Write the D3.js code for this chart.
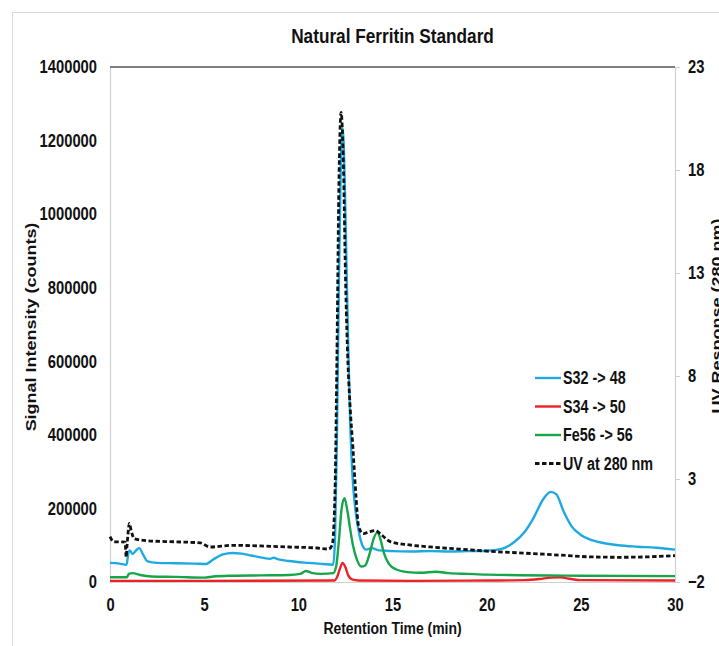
<!DOCTYPE html>
<html>
<head>
<meta charset="utf-8">
<script src="https://cdn.jsdelivr.net/npm/d3@7"></script>
<style>
  body { margin: 0; background: #fff; }
  text { font-family: "Liberation Sans", Arial, sans-serif; font-weight: bold; fill: #111; }
</style>
</head>
<body>
<div id="chart"></div>
<script>
// retention time (min) vs counts
const s32 = [[0, 52000], [0.5, 50000], [0.88, 47000], [0.98, 80000], [1.05, 86000], [1.2, 76000], [1.35, 84000],
  [1.55, 92000], [1.75, 75000], [2.0, 56000], [2.5, 52000], [3.5, 51000], [4.5, 50000], [5.1, 49000], [5.5, 62000],
  [6.0, 75000], [6.5, 79000], [7.0, 77000], [7.5, 72000], [8.0, 67000], [8.5, 63000], [8.7, 66000], [8.9, 62000],
  [9.5, 57000], [10.5, 52000], [11.3, 49000], [11.85, 47000], [11.95, 120000], [12.05, 400000], [12.15, 800000],
  [12.25, 1120000], [12.35, 1235000], [12.45, 1120000], [12.55, 880000], [12.65, 640000], [12.75, 440000],
  [12.9, 270000], [13.0, 210000], [13.2, 140000], [13.4, 100000], [13.6, 88000], [13.9, 92000], [14.3, 86000],
  [15, 84000], [16, 83000], [17, 84000], [18, 83000], [19, 84000], [20, 85000], [20.8, 90000], [21.5, 110000],
  [22.0, 135000], [22.5, 175000], [23.0, 225000], [23.4, 245000], [23.7, 238000], [24.1, 190000], [24.5, 152000],
  [25.0, 128000], [25.5, 115000], [26.0, 108000], [27.0, 100000], [28.0, 96000], [29.0, 93000], [30.0, 88000]];

const s34 = [[0, 3000], [5, 3000], [11.9, 4000], [12.05, 12000], [12.2, 35000], [12.35, 52000], [12.5, 40000],
  [12.65, 18000], [12.85, 7000], [13.2, 4000], [16, 3000], [20, 4000], [22, 5000], [22.8, 8000], [23.4, 12000],
  [23.9, 13000], [24.4, 9000], [25, 5000], [30, 4000]];

const fe56 = [[0, 13000], [0.9, 13000], [1.0, 22000], [1.2, 24000], [1.6, 19000], [2.2, 15000], [3.5, 14000],
  [5.0, 12000], [5.5, 15000], [6.5, 17000], [8.0, 18000], [9.5, 19000], [10.1, 22000], [10.4, 30000], [10.7, 25000],
  [11.2, 22000], [11.85, 24000], [12.0, 40000], [12.15, 110000], [12.3, 200000], [12.45, 228000], [12.6, 195000],
  [12.75, 145000], [12.9, 100000], [13.1, 62000], [13.35, 42000], [13.55, 45000], [13.8, 80000], [14.0, 118000],
  [14.2, 135000], [14.35, 118000], [14.55, 78000], [14.8, 50000], [15.2, 34000], [15.8, 27000], [16.5, 25000],
  [17.3, 28000], [18.0, 24000], [19.0, 22000], [20.0, 20000], [25.0, 17000], [30.0, 16000]];

// UV response at 280 nm (right axis)
const uv280 = [[0, 0.2], [0.2, -0.05], [0.8, -0.06], [0.86, -0.8], [0.9, -0.3], [0.95, 0.3], [1.03, 0.85],
  [1.12, 0.5], [1.3, 0.1], [2.0, 0.0], [3.5, -0.05], [4.8, -0.1], [5.3, -0.3], [6.5, -0.22], [8.0, -0.25],
  [9.5, -0.3], [11.0, -0.35], [11.6, -0.4], [11.8, -0.2], [11.95, 2.5], [12.05, 9], [12.15, 17], [12.27, 20.8],
  [12.4, 18], [12.5, 13], [12.6, 9.5], [12.75, 6.5], [12.9, 4.5], [13.05, 2.3], [13.2, 0.7], [13.45, 0.35],
  [13.8, 0.45], [14.1, 0.5], [14.4, 0.3], [14.9, -0.05], [15.9, -0.2], [17.0, -0.3], [18.5, -0.4], [20.0, -0.5],
  [22.0, -0.6], [24.0, -0.7], [25.5, -0.78], [27.0, -0.8], [28.5, -0.78], [30.0, -0.72]];

const xTicks = [0, 5, 10, 15, 20, 25, 30];
const yTicks = [0, 200000, 400000, 600000, 800000, 1000000, 1200000, 1400000];
const uvTicks = [-2, 3, 8, 13, 18, 23];
const legendLabels = ['S32 -> 48', 'S34 -> 50', 'Fe56 -> 56', 'UV at 280 nm'];

const width = 719, height = 646;
const margin = { top: 67, right: 44, bottom: 64, left: 110 };
const SQ = 0.82; // text in the picture is squeezed horizontally

const svg = d3.select('#chart').append('svg')
  .attr('width', width)
  .attr('height', height);

svg.append('rect')
  .attr('x', 12.5).attr('y', 12.5)
  .attr('width', width).attr('height', height)
  .attr('fill', 'none').attr('stroke', '#d9d9d9');

const x = d3.scaleLinear().domain([0, 30]).range([margin.left, width - margin.right]);
const y = d3.scaleLinear().domain([0, 1400000]).range([height - margin.bottom, margin.top]);
const y2 = d3.scaleLinear().domain([-2, 23]).range([height - margin.bottom, margin.top]);

// axes
const gx = svg.append('g')
  .attr('transform', `translate(0,${height - margin.bottom})`)
  .call(d3.axisBottom(x).tickValues(xTicks).tickSize(0).tickFormat(d3.format('d')));
gx.selectAll('text').attr('y', 29).attr('dy', null)
  .attr('transform', function() { return null; })
  .each(function() {
    const t = d3.select(this);
    t.attr('x', 0).attr('transform', `scale(${SQ},1)`);
  });

const gy = svg.append('g')
  .attr('transform', `translate(${margin.left},0)`)
  .call(d3.axisLeft(y).tickValues(yTicks).tickSize(0).tickFormat(d3.format('d')));
gy.selectAll('text').attr('x', -13 / SQ).attr('transform', `scale(${SQ},1)`);

const gy2 = svg.append('g')
  .attr('transform', `translate(${width - margin.right},0)`)
  .call(d3.axisRight(y2).tickValues(uvTicks).tickSize(5).tickFormat(d3.format('d')));
gy2.selectAll('text').attr('x', 13 / SQ).attr('transform', `scale(${SQ},1)`);

[gx, gy, gy2].forEach(g => {
  g.selectAll('text').style('font-size', '18px').style('font-family', null).attr('fill', '#111');
  g.select('.domain').attr('stroke', '#d0d0d0').attr('stroke-width', 1.2);
  g.selectAll('.tick line').attr('stroke', '#d0d0d0');
});

// dark top rule of the plot area
svg.append('line')
  .attr('x1', x(0)).attr('x2', x(30))
  .attr('y1', margin.top).attr('y2', margin.top)
  .attr('stroke', '#555').attr('stroke-width', 1.6);

// series
const series = [
  { data: s32, scale: y, color: '#1fa9e1', dash: null, w: 2.4 },
  { data: s34, scale: y, color: '#ec2227', dash: null, w: 2.4 },
  { data: fe56, scale: y, color: '#17a54a', dash: null, w: 2.4 },
  { data: uv280, scale: y2, color: '#111', dash: '4.5,2.5', w: 2.8 }
];

series.forEach(s => {
  const line = d3.line()
    .x(d => x(d[0]))
    .y(d => s.scale(d[1]))
    .curve(d3.curveMonotoneX);
  svg.append('path')
    .datum(s.data)
    .attr('d', line)
    .attr('fill', 'none')
    .attr('stroke', s.color)
    .attr('stroke-width', s.w)
    .attr('stroke-dasharray', s.dash)
    .attr('stroke-linejoin', 'round');
});

// legend
const legend = svg.append('g').attr('transform', 'translate(535,378)');
legendLabels.forEach((name, i) => {
  const s = series[i];
  const row = legend.append('g').attr('transform', `translate(0,${i * 28.5})`);
  row.append('line')
    .attr('x1', 0).attr('x2', 26)
    .attr('stroke', s.color)
    .attr('stroke-width', s.w)
    .attr('stroke-dasharray', s.dash);
  row.append('text')
    .attr('transform', `translate(28,6) scale(${SQ},1)`)
    .style('font-size', '17.5px')
    .text(name);
});

// titles
svg.append('text')
  .attr('transform', `translate(${(x(0) + x(30)) / 2},43) scale(${SQ},1)`)
  .attr('text-anchor', 'middle')
  .style('font-size', '21px')
  .text('Natural Ferritin Standard');

svg.append('text')
  .attr('transform', `translate(${(x(0) + x(30)) / 2},634) scale(${SQ},1)`)
  .attr('text-anchor', 'middle')
  .style('font-size', '17px')
  .text('Retention Time (min)');

svg.append('text')
  .attr('transform', `translate(36,327) scale(${SQ},1) rotate(-90)`)
  .attr('text-anchor', 'middle')
  .style('font-size', '18px')
  .text('Signal Intensity (counts)');

svg.append('text')
  .attr('transform', `translate(722,316) scale(${SQ},1) rotate(-90)`)
  .attr('text-anchor', 'middle')
  .style('font-size', '18px')
  .text('UV Response (280 nm)');
</script>
</body>
</html>
